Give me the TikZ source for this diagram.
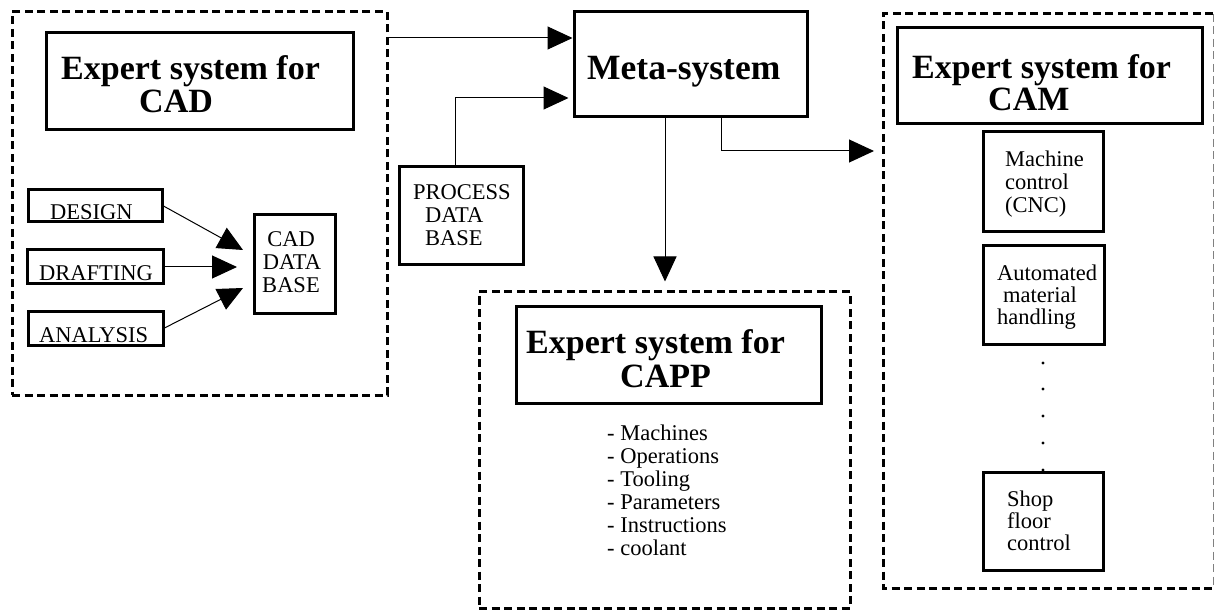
\documentclass[tikz,border=0pt]{standalone}
\usepackage{fontspec}
\setmainfont{Liberation Serif}
\usetikzlibrary{arrows.meta,fit}
\begin{document}
\begin{tikzpicture}[x=1pt,y=-1pt,
  solidbox/.style={draw, line width=3pt, inner sep=0pt},
  dashbox/.style={draw, line width=3pt, dash pattern=on 8pt off 4.5pt, inner sep=0pt},
  areabox/.style={inner sep=0pt, outer sep=0pt},
  title/.style={anchor=base west, inner sep=0pt, font=\fontsize{34}{34}\selectfont\bfseries},
  txt/.style={anchor=base west, inner sep=0pt, font=\fontsize{22.5}{23}\selectfont},
  conn/.style={line width=1pt, -{Triangle[length=25pt,width=23pt]}},
]
\useasboundingbox (0,0) rectangle (1215,612);

% ---------- CAD expert system ----------
\node[dashbox, fit={(12,12) (387,395)}] (cadsys) {};
\node[solidbox, fit={(46,33) (353,130)}] (cadtitle) {};
\node[title] (cadt1) at (61,80) {Expert system for};
\node[title] (cadt2) at (139,113) {CAD};

\node[solidbox, fit={(28,190) (162,222)}] (design) {};
\node[txt] (designt) at (50,220) {DESIGN};
\node[solidbox, fit={(27,250) (163,284)}] (drafting) {};
\node[txt] (draftingt) at (39,281) {DRAFTING};
\node[solidbox, fit={(28,311) (163,345)}] (analysis) {};
\node[txt] (analysist) at (39,342) {ANALYSIS};

\node[solidbox, fit={(254,215) (335,313)}] (caddb) {};
\node[txt, anchor=base] (caddb1) at (291,247) {CAD};
\node[txt, anchor=base] (caddb2) at (292,270) {DATA};
\node[txt, anchor=base] (caddb3) at (291,293) {BASE};

\coordinate (tipdesign) at (243,250);
\coordinate (tipdrafting) at (237,267);
\coordinate (tipanalysis) at (243,288);
\draw[conn] (design.east) -- (tipdesign);
\draw[conn] (drafting.east) -- (tipdrafting);
\draw[conn] (analysis.east) -- (tipanalysis);

% ---------- Meta-system and process data base ----------
\node[solidbox, fit={(574,12) (807,117)}] (meta) {};
\node[title, font=\fontsize{35.5}{35.5}\selectfont\bfseries] (metat) at (587,80) {Meta-system};

\node[solidbox, fit={(399,167) (523,265)}] (process) {};
\node[txt] (process1) at (413,200) {PROCESS};
\node[txt] (process2) at (425,223) {DATA};
\node[txt] (process3) at (425,246) {BASE};

\coordinate (lvl1) at (0,38);
\coordinate (lvl2) at (0,98);
\coordinate (lvl3) at (0,151);
\coordinate (pcol) at (455,0);
\coordinate (mcol) at (665,0);
\coordinate (rcol) at (721,0);

\draw[conn] (cadsys.east |- lvl1) -- (meta.west |- lvl1);
\draw[conn, shorten >=4pt] (process.north -| pcol) |- (meta.west |- lvl2);

% ---------- CAPP expert system ----------
\node[dashbox, fit={(479,292) (850,608)}] (cappsys) {};
\node[solidbox, fit={(516,306) (821,403)}] (capptitle) {};
\node[title] (cappt1) at (526,353) {Expert system for};
\node[title] (cappt2) at (620,387) {CAPP};

\node[txt] (capp1) at (607,440) {- Machines};
\node[txt] (capp2) at (607,463) {- Operations};
\node[txt] (capp3) at (607,486) {- Tooling};
\node[txt] (capp4) at (607,509) {- Parameters};
\node[txt] (capp5) at (607,532) {- Instructions};
\node[txt] (capp6) at (607,555) {- coolant};

\draw[conn, shorten >=9pt] (meta.south -| mcol) -- (cappsys.north -| mcol);

% ---------- CAM expert system ----------
\node[areabox, fit={(883,14) (1213,588)}] (camsys) {};
\draw[line width=3pt, dash pattern=on 8pt off 4.5pt]
  (camsys.north east) -- (camsys.north west) -- (camsys.south west) -- (camsys.south east);
\draw[line width=1pt, gray, dash pattern=on 8pt off 4.5pt]
  (camsys.north east) -- (camsys.south east);
\node[solidbox, fit={(897,28) (1202,124)}] (camtitle) {};
\node[title] (camt1) at (912,79) {Expert system for};
\node[title] (camt2) at (988,111) {CAM};

\node[solidbox, fit={(983,132) (1103,232)}] (cnc) {};
\node[txt] (cnc1) at (1005,167) {Machine};
\node[txt] (cnc2) at (1005,190) {control};
\node[txt] (cnc3) at (1005,213) {(CNC)};

\node[solidbox, fit={(983,246) (1104,344)}] (amh) {};
\node[txt] (amh1) at (997,280) {Automated};
\node[txt] (amh2) at (1003,302) {material};
\node[txt] (amh3) at (997,324) {handling};

\foreach \yy in {363,389,416,443,470}
  \fill (1043,\yy) circle (1.6pt);

\node[solidbox, fit={(983,472) (1103,570)}] (shop) {};
\node[txt] (shop1) at (1007,506) {Shop};
\node[txt] (shop2) at (1007,528) {floor};
\node[txt] (shop3) at (1007,550) {control};

\draw[conn, shorten >=9pt] (meta.south -| rcol) |- (camsys.west |- lvl3);

\end{tikzpicture}
\end{document}
